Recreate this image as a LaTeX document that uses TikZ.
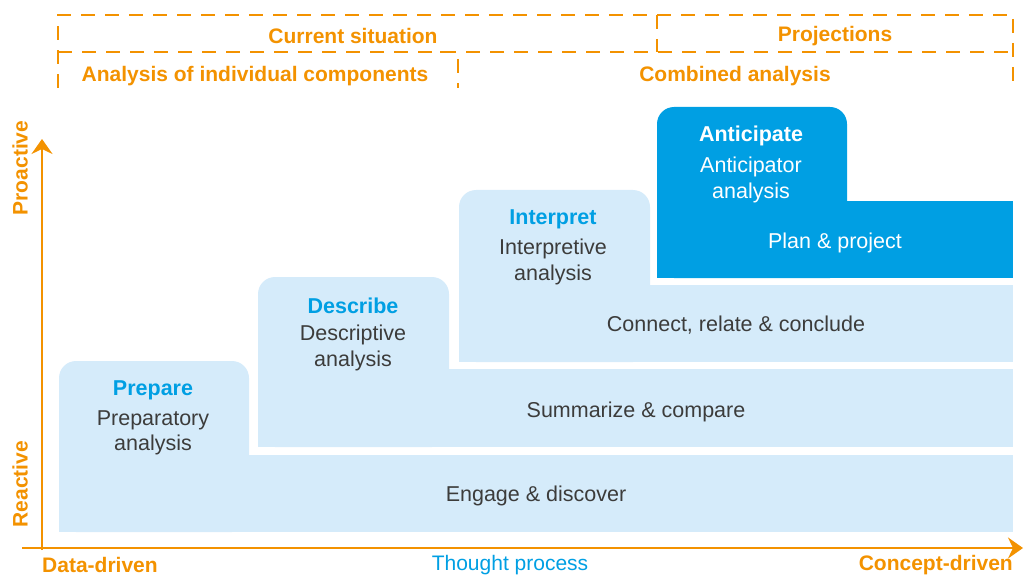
\documentclass[tikz,border=0pt]{standalone}
\usepackage{fontspec}
\setmainfont{Liberation Sans}
\usetikzlibrary{arrows.meta}

\definecolor{ochre}{HTML}{F39200}
\definecolor{paleblue}{HTML}{D5EBFA}
\definecolor{deepblue}{HTML}{009FE3}
\definecolor{inkgray}{HTML}{3C3C3B}

\begin{document}
\begin{tikzpicture}[x=1pt, y=-1pt, every node/.style={align=center, inner sep=0pt},
    txt/.style={font=\fontsize{21.5}{25.5}\selectfont, text=inkgray},
    stagetitle/.style={font=\fontsize{21.5}{25}\selectfont\bfseries, text=deepblue},
    orangelabel/.style={font=\fontsize{21}{24}\selectfont\bfseries, text=ochre},
    bracket/.style={draw=ochre, line width=2.4pt, dash pattern=on 14pt off 10pt},
    axis/.style={draw=ochre, line width=2.8pt, -{Stealth[length=15pt, width=21pt, inset=5pt]}}]
    \useasboundingbox (0,0) rectangle (1024,577);

    % brackets on top
    \draw[bracket] (58,88) -- (58,15) -- (1013,15) -- (1013,88);
    \draw[bracket] (58,52) -- (1013,52);
    \draw[bracket] (657,15) -- (657,52);
    \draw[bracket, rounded corners=3pt] (440,52) -- (458,52) -- (458,88);
    \node[orangelabel] (now) at (353,36) {Current situation};
    \node[orangelabel] (proj) at (835,36) {Projections};
    \node[orangelabel] (single) at (255,76) {Analysis of individual components};
    \node[orangelabel] (comb) at (735,76) {Combined analysis};

    % prepare
    \fill[paleblue, rounded corners=17pt] (59,361) rectangle (249,532);
    \fill[paleblue] (59,400) rectangle (249,532);
    \fill[paleblue] (59,455) rectangle (1013,532);
    % describe
    \fill[paleblue, rounded corners=17pt] (258,277) rectangle (449,447);
    \fill[paleblue] (258,320) rectangle (449,447);
    \fill[paleblue] (258,369) rectangle (1013,447);
    % interpret
    \fill[paleblue, rounded corners=17pt] (459,190) rectangle (650,362);
    \fill[paleblue] (459,230) rectangle (650,362);
    \fill[paleblue] (459,285) rectangle (1013,362);
    % anticipate
    \fill[deepblue, rounded corners=17pt] (657,107) rectangle (847,278);
    \fill[deepblue] (657,150) rectangle (847,278);
    \fill[deepblue] (657,201) rectangle (1013,278);

    \node[stagetitle] (prep) at (153,390) {Prepare};
    \node[txt] (prepA) at (153,433) {Preparatory\\analysis};
    \node[txt] (prepB) at (536,496) {Engage \& discover};

    \node[stagetitle] (desc) at (353,306) {Describe};
    \node[txt] (descA) at (353,348) {Descriptive\\analysis};
    \node[txt] (descB) at (636,412) {Summarize \& compare};

    \node[stagetitle] (intp) at (553,219) {Interpret};
    \node[txt] (intpA) at (553,262) {Interpretive\\analysis};
    \node[txt] (intpB) at (736,325) {Connect, relate \& conclude};

    \node[stagetitle, text=white] (anti) at (751,136) {Anticipate};
    \node[txt, text=white] (antiA) at (751,180) {Anticipator\\analysis};
    \node[txt, text=white] (antiB) at (835,243) {Plan \& project};

    % axes
    \coordinate (orig) at (42,548);
    \coordinate (xend) at (1023,548);
    \coordinate (yend) at (42,139);
    \draw[axis] (22,548) -- (xend);
    \draw[axis] (42,550) -- (yend);
    \node[orangelabel, rotate=90] (pro) at (20,168) {Proactive};
    \node[orangelabel, rotate=90] (rea) at (20,484) {Reactive};
    \node[orangelabel, anchor=west] (data) at (42,565) {Data-driven};
    \node[orangelabel, anchor=east] (conc) at (1013,565) {Concept-driven};
    \node[txt, text=deepblue, font=\fontsize{21}{24}\selectfont] (thought) at (510,565) {Thought process};
\end{tikzpicture}
\end{document}
